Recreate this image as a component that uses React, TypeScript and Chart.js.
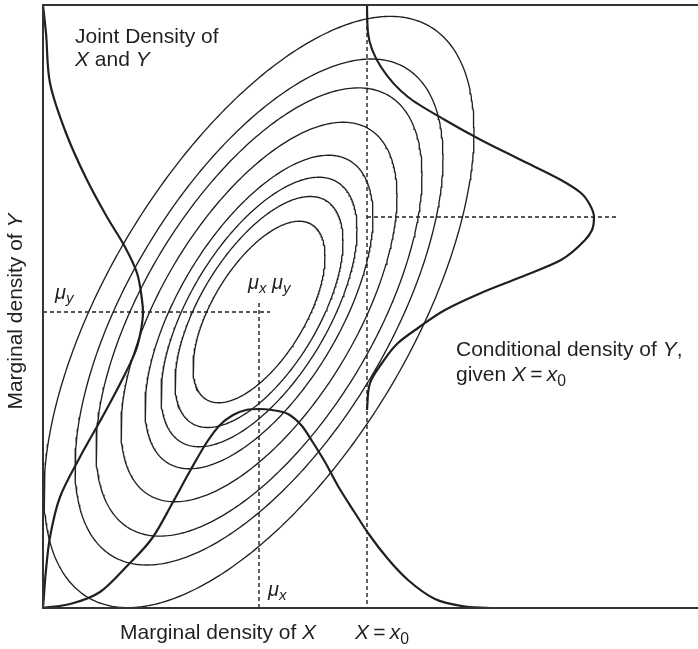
import React, { useEffect, useRef } from "react";
import { Chart, registerables } from "chart.js";

Chart.register(...registerables);

// Standardised axes: mu_x = mu_y = 0
const xRange = [-2.16, 4.39];
const yRange = [-2.96, 3.07];

const muX = 0;
const muY = 0;
const x0 = 1.08;
const condMeanY = 0.95;
const condGuideEnd = 3.6;
const muGuideEnd = 0.11;
const muGuideTop = 0.09;

// Joint density contours: half-width of each level ellipse
const contourHalfWidths = [0.66, 0.84, 0.98, 1.14, 1.38, 1.63, 1.84, 2.15];
const contourAspect = 1.375; // sigma_y / sigma_x
const contourRho = 0.61;

// Marginal density of X, measured up from the bottom axis
const marginalXAt = [-2.16, -1.89, -1.59, -1.32, -1.06, -0.86, -0.69, -0.52, -0.39, -0.26, -0.13, 0, 0.13, 0.29, 0.43, 0.53, 0.66, 0.79, 0.96, 1.09, 1.29, 1.49, 1.76, 2.03, 2.31];
const marginalXDensity = [0, 0.04, 0.16, 0.42, 0.71, 1.06, 1.37, 1.66, 1.83, 1.93, 1.98, 1.99, 1.98, 1.94, 1.82, 1.67, 1.46, 1.22, 0.95, 0.75, 0.49, 0.28, 0.09, 0.02, 0];

// Marginal density of Y, measured right from the left axis
const marginalYAt = [3.07, 2.79, 2.29, 1.79, 1.32, 0.95, 0.65, 0.39, 0.12, 0, -0.18, -0.38, -0.68, -0.91, -1.11, -1.45, -1.85, -2.25, -2.58, -2.96];
const marginalYDensity = [0, 0.03, 0.07, 0.23, 0.44, 0.64, 0.82, 0.94, 0.99, 1.0, 0.98, 0.93, 0.79, 0.67, 0.56, 0.37, 0.17, 0.07, 0.03, 0];

// Conditional density of Y given X = x0, measured right from x0
const conditionalYAt = [3.07, 2.79, 2.45, 2.15, 1.92, 1.72, 1.52, 1.32, 1.19, 1.07, 0.95, 0.82, 0.72, 0.52, 0.35, 0.19, 0.02, -0.16, -0.31, -0.51, -0.71, -0.98];
const conditionalDensity = [0, 0.01, 0.14, 0.41, 0.78, 1.14, 1.54, 1.94, 2.14, 2.23, 2.27, 2.25, 2.18, 1.94, 1.54, 1.14, 0.78, 0.51, 0.31, 0.15, 0.03, 0];

const INK = "#231f20";
const FONT = '"Liberation Sans", Arial, Helvetica, sans-serif';
const TEXT_SIZE = 21;
const MU_SIZE = 20;

function contourPoints(h: number) {
  const pts: { x: number; y: number }[] = [];
  const n = 360;
  const sx = h;
  const sy = h * contourAspect;
  const k = Math.sqrt(1 - contourRho * contourRho);
  for (let i = 0; i <= n; i++) {
    const t = (i / n) * 2 * Math.PI;
    pts.push({
      x: muX + sx * Math.cos(t),
      y: muY + sy * (contourRho * Math.cos(t) + k * Math.sin(t)),
    });
  }
  return pts;
}

type Run = { t: string; it?: boolean; sub?: boolean };

function runsWidth(ctx: CanvasRenderingContext2D, runs: Run[], size: number) {
  let w = 0;
  for (const r of runs) {
    const s = r.sub ? size * 0.75 : size;
    ctx.font = `${r.it ? "italic " : ""}${s}px ${FONT}`;
    w += ctx.measureText(r.t).width;
  }
  return w;
}

function drawRuns(ctx: CanvasRenderingContext2D, runs: Run[], x: number, y: number, size: number) {
  let cx = x;
  for (const r of runs) {
    const s = r.sub ? size * 0.75 : size;
    ctx.font = `${r.it ? "italic " : ""}${s}px ${FONT}`;
    ctx.fillText(r.t, cx, r.sub ? y + size * 0.22 : y);
    cx += ctx.measureText(r.t).width;
  }
}

const framePlugin = {
  id: "frame",
  afterDatasetsDraw(chart: Chart) {
    const { ctx, chartArea: a } = chart;
    ctx.save();
    ctx.strokeStyle = "#333";
    ctx.lineWidth = 2;
    ctx.beginPath();
    ctx.moveTo(chart.width, a.top);
    ctx.lineTo(a.left, a.top);
    ctx.lineTo(a.left, a.bottom);
    ctx.lineTo(chart.width, a.bottom);
    ctx.stroke();
    ctx.restore();
  },
};

const labelPlugin = {
  id: "labels",
  afterDraw(chart: Chart) {
    const { ctx } = chart;
    const xs = chart.scales.x;
    const ys = chart.scales.y;
    ctx.save();
    ctx.fillStyle = INK;
    ctx.textBaseline = "alphabetic";
    ctx.textAlign = "left";

    drawRuns(ctx, [{ t: "Joint Density of" }], 75, 43, TEXT_SIZE);
    drawRuns(ctx, [{ t: "X", it: true }, { t: " and " }, { t: "Y", it: true }], 75, 66, TEXT_SIZE);

    drawRuns(ctx, [{ t: "Conditional density of " }, { t: "Y", it: true }, { t: "," }], 456, 356, TEXT_SIZE);
    drawRuns(ctx, [{ t: "given " }, { t: "X", it: true }, { t: "\u2009=\u2009" }, { t: "x", it: true }, { t: "0", sub: true }], 456, 381, TEXT_SIZE);

    // axis captions
    drawRuns(ctx, [{ t: "Marginal density of " }, { t: "X", it: true }], 120, 639, TEXT_SIZE);
    drawRuns(ctx, [{ t: "X", it: true }, { t: "\u2009=\u2009" }, { t: "x", it: true }, { t: "0", sub: true }], xs.getPixelForValue(x0) - 12, 639, TEXT_SIZE);

    const yLab: Run[] = [{ t: "Marginal density of " }, { t: "Y", it: true }];
    const w = runsWidth(ctx, yLab, TEXT_SIZE);
    ctx.save();
    ctx.translate(22, (chart.chartArea.top + chart.chartArea.bottom) / 2 + 5);
    ctx.rotate(-Math.PI / 2);
    drawRuns(ctx, yLab, -w / 2, 0, TEXT_SIZE);
    ctx.restore();

    // mean markers
    const px = xs.getPixelForValue(muX);
    const py = ys.getPixelForValue(muY);
    drawRuns(ctx, [{ t: "\u03bc", it: true }, { t: "y", it: true, sub: true }], xs.getPixelForValue(xRange[0]) + 12, py - 13, MU_SIZE);
    drawRuns(
      ctx,
      [{ t: "\u03bc", it: true }, { t: "x", it: true, sub: true }, { t: " " }, { t: "\u03bc", it: true }, { t: "y", it: true, sub: true }],
      px - 11,
      py - 23,
      MU_SIZE
    );
    drawRuns(ctx, [{ t: "\u03bc", it: true }, { t: "x", it: true, sub: true }], px + 9, ys.getPixelForValue(yRange[0]) - 12, MU_SIZE);
    ctx.restore();
  },
};

function seg(a: [number, number], b: [number, number]) {
  return [
    { x: a[0], y: a[1] },
    { x: b[0], y: b[1] },
  ];
}

export default function App() {
  const ref = useRef<HTMLCanvasElement>(null);

  useEffect(() => {
    const dashed = (data: { x: number; y: number }[]) => ({
      data,
      showLine: true,
      borderColor: INK,
      borderWidth: 1.4,
      borderDash: [4, 3],
      pointRadius: 0,
      tension: 0,
      clip: 0,
    });
    const thick = (data: { x: number; y: number }[], axis: "x" | "y") => ({
      data,
      indexAxis: axis,
      showLine: true,
      borderColor: INK,
      borderWidth: 2.2,
      pointRadius: 0,
      cubicInterpolationMode: "monotone",
      clip: 2,
    });

    const datasets: any[] = [
      dashed(seg([xRange[0], muY], [muGuideEnd, muY])),
      dashed(seg([muX, muGuideTop], [muX, yRange[0]])),
      dashed(seg([x0, yRange[1]], [x0, yRange[0]])),
      dashed(seg([x0, condMeanY], [condGuideEnd, condMeanY])),
      ...contourHalfWidths.map((h) => ({
        data: contourPoints(h),
        showLine: true,
        borderColor: INK,
        borderWidth: 1.35,
        pointRadius: 0,
        tension: 0,
        clip: 0,
      })),
      thick(marginalXAt.map((x, i) => ({ x, y: yRange[0] + marginalXDensity[i] })), "x"),
      thick(marginalYAt.map((y, i) => ({ x: xRange[0] + marginalYDensity[i], y })), "y"),
      thick(conditionalYAt.map((y, i) => ({ x: x0 + conditionalDensity[i], y })), "y"),
    ];

    const chart = new Chart(ref.current!, {
      type: "scatter",
      data: { datasets },
      options: {
        animation: false,
        responsive: false,
        devicePixelRatio: 1,
        layout: { padding: { left: 43, top: 5, right: 0, bottom: 41 } },
        plugins: { legend: { display: false }, tooltip: { enabled: false } },
        scales: {
          x: { type: "linear", min: xRange[0], max: xRange[1], display: false },
          y: { type: "linear", min: yRange[0], max: yRange[1], display: false },
        },
      },
      plugins: [framePlugin, labelPlugin],
    });
    return () => chart.destroy();
  }, []);

  return (
    <div style={{ position: "absolute", left: 0, top: 0, width: 698, height: 649, background: "#fff" }}>
      <canvas ref={ref} width={698} height={649} style={{ display: "block", width: 698, height: 649 }} />
    </div>
  );
}
